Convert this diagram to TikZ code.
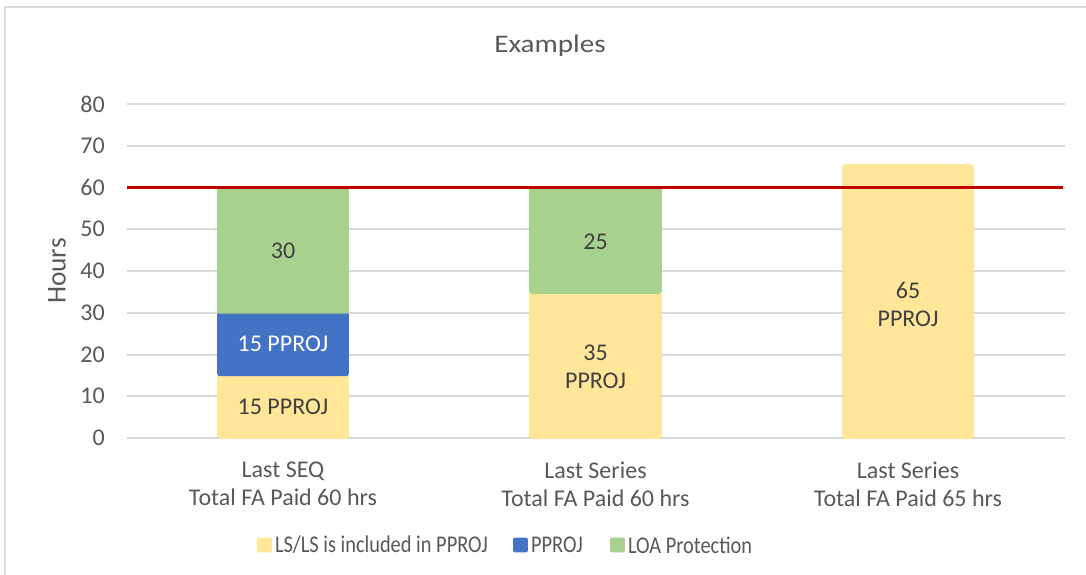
\documentclass[tikz,border=0pt]{standalone}
\usepackage{fontspec}
\setmainfont{Carlito}
\usepackage{xcolor}
\usetikzlibrary{positioning}

\definecolor{lsyellow}{HTML}{FFE699}
\definecolor{pprojblue}{HTML}{4472C4}
\definecolor{loagreen}{HTML}{A9D18E}
\definecolor{capred}{HTML}{C00000}
\definecolor{gridgray}{HTML}{D9D9D9}
\definecolor{axistext}{HTML}{595959}
\definecolor{bartext}{HTML}{404040}

\newcommand{\legtext}[1]{\scalebox{0.85}[1]{#1}}

\tikzset{
  txt/.style={font=\fontsize{18}{21}\selectfont, text=axistext, inner sep=0pt},
  inbar/.style={font=\fontsize{18}{21}\selectfont, text=bartext, inner sep=0pt, align=center},
  seg/.style={draw=white, line width=1.2pt, rounded corners=1.5pt},
  key/.style={minimum width=11pt, minimum height=11pt, inner sep=0pt, rounded corners=1pt}
}

\begin{document}
\begin{tikzpicture}[x=0.75pt, y=-0.75pt]

\useasboundingbox (0,0) rectangle (1086,575);
\fill[white] (0,0) rectangle (1086,575);

% chart frame
\draw[gridgray, line width=1.5pt] (5,575) -- (5,7) -- (1086,7);

\node[txt, font=\fontsize{19}{22}\selectfont] (title) at (550,46) {\scalebox{1.15}[1]{Examples}};

% grid and y labels
\foreach \v in {0,10,...,80} {
  \draw[gridgray, line width=1.5pt] (127,438-4.175*\v) -- (1065,438-4.175*\v);
  \node[txt, anchor=east] (y\v) at (105,438-4.175*\v) {\v};
}
\node[txt, font=\fontsize{20.5}{24}\selectfont, rotate=90] (hours) at (57,271) {Hours};

% bar 1
\fill[seg, lsyellow] (218,438) rectangle (348,375.4);
\fill[seg, pprojblue] (218,375.4) rectangle (348,312.8);
\fill[seg, loagreen] (218,312.8) rectangle (348,187.5);
\node[inbar] (a1) at (283,407) {15 PPROJ};
\node[inbar, text=white] (a2) at (283,344) {15 PPROJ};
\node[inbar] (a3) at (283,251) {30};

% bar 2
\fill[seg, lsyellow] (530,438) rectangle (661,293);
\fill[seg, loagreen] (530,293) rectangle (661,187.5);
\node[inbar] (b1) at (595.5,367) {35\\PPROJ};
\node[inbar] (b2) at (595.5,242) {25};

% bar 3
\fill[seg, lsyellow] (843,438) rectangle (973,165);
\node[inbar] (c1) at (908,304) {65\\PPROJ};

% 60 hrs limit
\coordinate (capL) at (127,187.5);
\coordinate (capR) at (1063,187.5);
\draw[capred, line width=2.2pt] (capL) -- (capR);

% categories
\node[txt, align=center] (cat1) at (283,484) {Last SEQ\\Total FA Paid 60 hrs};
\node[txt, align=center] (cat2) at (595.5,484) {Last Series\\Total FA Paid 60 hrs};
\node[txt, align=center] (cat3) at (908,484) {Last Series\\Total FA Paid 65 hrs};

% legend
\node[key, fill=lsyellow] (k1) at (264.5,545) {};
\node[txt, right=2pt of k1] (l1) {\legtext{LS/LS is included in PPROJ}};
\node[key, fill=pprojblue] (k2) at (520.5,545) {};
\node[txt, right=2pt of k2] (l2) {\legtext{PPROJ}};
\node[key, fill=loagreen] (k3) at (617.5,545) {};
\node[txt, right=2pt of k3] (l3) {\legtext{LOA Protection}};

\end{tikzpicture}
\end{document}
